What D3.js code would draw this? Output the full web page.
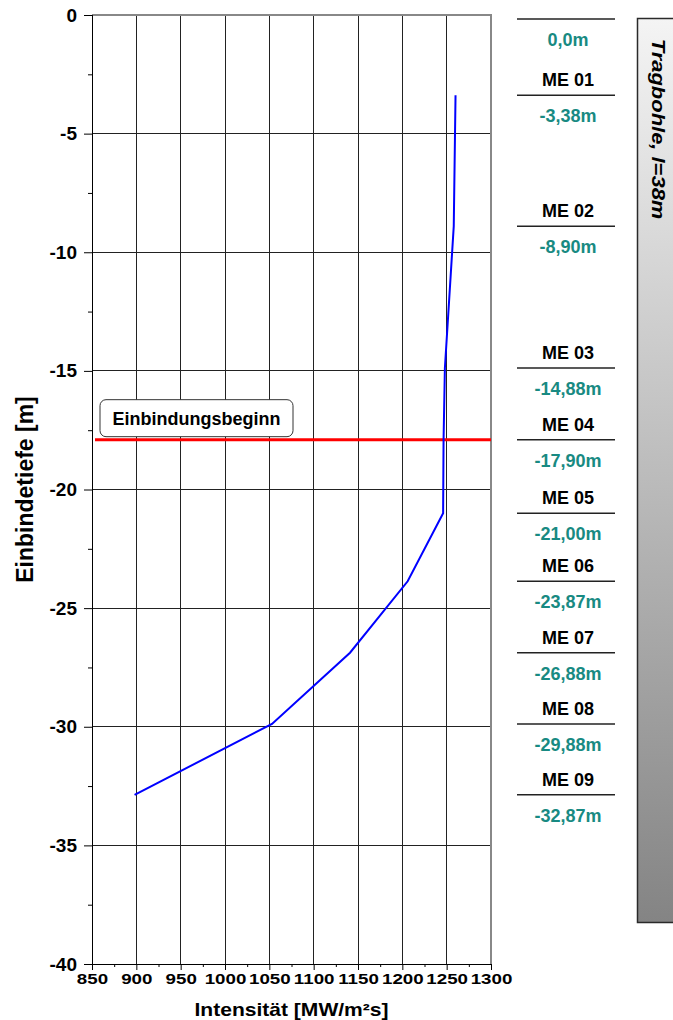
<!DOCTYPE html>
<html>
<head>
<meta charset="utf-8">
<script src="https://cdn.jsdelivr.net/npm/d3@7"></script>
<style>
    body { margin: 0; background: #fff; }
    text { font-family: "Liberation Sans", Arial, sans-serif; font-weight: bold; }
</style>
</head>
<body>
<script>
'use strict';

// measuring points (depth in m) and their labels
const depths = [0, -3.38, -8.90, -14.88, -17.90, -21.00, -23.87, -26.88, -29.88, -32.87];
const depthLabels = ['0,0m', '-3,38m', '-8,90m', '-14,88m', '-17,90m', '-21,00m', '-23,87m', '-26,88m', '-29,88m', '-32,87m'];
const meLabels = ['ME 01', 'ME 02', 'ME 03', 'ME 04', 'ME 05', 'ME 06', 'ME 07', 'ME 08', 'ME 09'];

// intensity at ME 01 .. ME 09
const intensity = [1260, 1258, 1248, 1246.5, 1246, 1206, 1141, 1053, 898];

const xTicks = [850, 900, 950, 1000, 1050, 1100, 1150, 1200, 1250, 1300];
const yTicks = [0, -5, -10, -15, -20, -25, -30, -35, -40];

const startDepth = -17.90;
const startLabel = 'Einbindungsbeginn';
const pileLabel = 'Tragbohle, l=38m';

const plot = { left: 92, right: 491, top: 15, bottom: 964 };

const svg = d3.select('body')
    .append('svg')
    .attr('width', 673)
    .attr('height', 1020);

const x = d3.scaleLinear().domain([850, 1300]).range([plot.left, plot.right]);
const y = d3.scaleLinear().domain([0, -40]).range([plot.top, plot.bottom]);

const xMinor = d3.pairs(xTicks).map(p => (p[0] + p[1]) / 2);
const yMinor = d3.pairs(yTicks).map(p => (p[0] + p[1]) / 2);

// grid
const grid = svg.append('g').attr('shape-rendering', 'crispEdges');

grid.selectAll('.vgrid')
    .data(xTicks.slice(1, -1))
    .enter()
        .append('line')
        .attr('x1', d => x(d)).attr('x2', d => x(d))
        .attr('y1', plot.top).attr('y2', plot.bottom)
        .attr('stroke', '#222').attr('stroke-width', 1);

grid.selectAll('.hgrid')
    .data(yTicks.slice(1, -1))
    .enter()
        .append('line')
        .attr('x1', plot.left).attr('x2', plot.right)
        .attr('y1', d => y(d)).attr('y2', d => y(d))
        .attr('stroke', '#222').attr('stroke-width', 1);

// frame top / right
grid.append('path')
    .attr('d', 'M' + plot.left + ',' + plot.top + 'H' + plot.right + 'V' + plot.bottom)
    .attr('fill', 'none')
    .attr('stroke', '#888')
    .attr('stroke-width', 1.5);

// axes
const yAxis = svg.append('g')
    .attr('transform', 'translate(' + plot.left + ',0)')
    .call(d3.axisLeft(y).tickValues(yTicks).tickSize(8).tickPadding(7).tickFormat(d => String(d)));

svg.append('g')
    .attr('transform', 'translate(' + plot.left + ',0)')
    .call(d3.axisLeft(y).tickValues(yMinor).tickSize(4).tickFormat(''));

const xAxis = svg.append('g')
    .attr('transform', 'translate(0,' + plot.bottom + ')')
    .call(d3.axisBottom(x).tickValues(xTicks).tickSize(6).tickPadding(3).tickFormat(d => String(d)));

svg.append('g')
    .attr('transform', 'translate(0,' + plot.bottom + ')')
    .call(d3.axisBottom(x).tickValues(xMinor).tickSize(3).tickFormat(''));

svg.selectAll('.domain').attr('stroke', '#000');
svg.selectAll('.tick line').attr('stroke', '#000');

yAxis.selectAll('text')
    .attr('font-size', 19)
    .attr('fill', '#000');

xAxis.selectAll('text')
    .attr('font-size', 15)
    .attr('fill', '#000')
    .attr('transform', 'scale(1.25,1)');

// axis titles
svg.append('text')
    .attr('transform', 'translate(' + ((plot.left + plot.right) / 2) + ',1016) scale(1.17,1)')
    .attr('text-anchor', 'middle')
    .attr('font-size', 18)
    .text('Intensität [MW/m²s]');

svg.append('text')
    .attr('transform', 'translate(33,' + ((plot.top + plot.bottom) / 2) + ') rotate(-90)')
    .attr('text-anchor', 'middle')
    .attr('font-size', 23)
    .text('Einbindetiefe [m]');

// start of embedding
svg.append('line')
    .attr('x1', plot.left + 3).attr('x2', plot.right)
    .attr('y1', y(startDepth)).attr('y2', y(startDepth))
    .attr('stroke', '#ff0000')
    .attr('stroke-width', 3);

svg.append('rect')
    .attr('x', plot.left + 8)
    .attr('y', y(startDepth) - 40)
    .attr('width', 193)
    .attr('height', 37)
    .attr('rx', 6)
    .attr('fill', '#fff')
    .attr('stroke', '#333')
    .attr('stroke-width', 1);

svg.append('text')
    .attr('x', plot.left + 8 + 193 / 2)
    .attr('y', y(startDepth) - 15)
    .attr('text-anchor', 'middle')
    .attr('font-size', 18)
    .text(startLabel);

// intensity profile
const points = intensity.map((v, i) => ({ v: v, d: depths[i + 1] }));

svg.append('path')
    .datum(points)
    .attr('d', d3.line().x(p => x(p.v)).y(p => y(p.d)))
    .attr('fill', 'none')
    .attr('stroke', '#0000ff')
    .attr('stroke-width', 2);

// measuring point legend column
const cx = 568;
const lineY = d => Math.max(y(d), plot.top + 4);

const col = svg.append('g');

col.selectAll('.me-line')
    .data(depths)
    .enter()
        .append('line')
        .attr('x1', cx - 51).attr('x2', cx + 47)
        .attr('y1', d => lineY(d)).attr('y2', d => lineY(d))
        .attr('stroke', '#222')
        .attr('stroke-width', 1.5);

col.selectAll('.depth-label')
    .data(depths)
    .enter()
        .append('text')
        .attr('x', cx)
        .attr('y', d => lineY(d) + 27)
        .attr('text-anchor', 'middle')
        .attr('font-size', 18)
        .attr('fill', '#188a82')
        .text((d, i) => depthLabels[i]);

col.selectAll('.me-label')
    .data(meLabels)
    .enter()
        .append('text')
        .attr('x', cx)
        .attr('y', (d, i) => lineY(depths[i + 1]) - 9)
        .attr('text-anchor', 'middle')
        .attr('font-size', 18)
        .attr('fill', '#000')
        .text(d => d);

// pile bar
const grad = svg.append('defs')
    .append('linearGradient')
    .attr('id', 'pile')
    .attr('x1', 0).attr('y1', 0).attr('x2', 0).attr('y2', 1);
grad.append('stop').attr('offset', '0%').attr('stop-color', '#f4f4f4');
grad.append('stop').attr('offset', '100%').attr('stop-color', '#848484');

svg.append('rect')
    .attr('x', 637.5)
    .attr('y', 18.5)
    .attr('width', 40)
    .attr('height', 904)
    .attr('fill', 'url(#pile)')
    .attr('stroke', '#2a2a2a')
    .attr('stroke-width', 1.5);

svg.append('text')
    .attr('transform', 'translate(652,129) rotate(90) scale(1.22,1)')
    .attr('text-anchor', 'middle')
    .attr('font-size', 18)
    .attr('font-style', 'italic')
    .text(pileLabel);
</script>
</body>
</html>
